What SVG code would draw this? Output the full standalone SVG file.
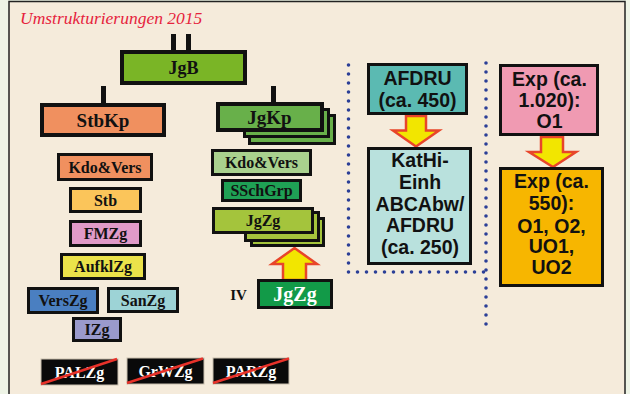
<svg xmlns="http://www.w3.org/2000/svg" width="630" height="394" viewBox="0 0 630 394">
<defs>
<style>
.bx{stroke:#111;stroke-width:3}
.bk{stroke:#111;stroke-width:4}
.ts{font-family:"Liberation Serif","Times New Roman",serif;font-weight:bold;font-size:16px;fill:#111;text-anchor:middle}
.tl{font-family:"Liberation Serif","Times New Roman",serif;font-weight:bold;font-size:19px;fill:#111;text-anchor:middle}
.tw{font-family:"Liberation Serif","Times New Roman",serif;font-weight:bold;font-size:16px;fill:#fff;text-anchor:middle}
.ta{font-family:"Liberation Sans",Arial,sans-serif;font-weight:bold;font-size:19.5px;fill:#111;text-anchor:middle}
.blk{fill:#0a0a0a;stroke:#c9bfae;stroke-width:1}
.cross{stroke:#e8322a;stroke-width:2.5}
.arr{fill:#f2e600;stroke:#e8452a;stroke-width:2.5;stroke-linejoin:miter}
.dot{fill:none;stroke:#2b3f97;stroke-width:3.6;stroke-linecap:round;stroke-dasharray:0 9}
.ln{stroke:#111;stroke-width:5}
</style>
</defs>
<rect x="0" y="0" width="630" height="394" fill="#eef4e6"/>
<rect x="9" y="1.5" width="616" height="400" fill="#f5ebdb" stroke="#222" stroke-width="1.5"/>
<text x="20" y="24" font-family="Liberation Serif,'Times New Roman',serif" font-style="italic" font-size="17.5" fill="#e6233d">Umstrukturierungen 2015</text>

<g id="connectors">
<line class="ln" x1="173.5" y1="34" x2="173.5" y2="50"/>
<line class="ln" x1="188.5" y1="34" x2="188.5" y2="50"/>
<line class="ln" x1="103.5" y1="86" x2="103.5" y2="103"/>
<line class="ln" x1="273.5" y1="86" x2="273.5" y2="102"/>
<polygon class="arr" points="294.5,248 317,264 306,264 306,280 283,280 283,264 272,264"/>
<polygon class="arr" points="406,116 426,116 426,130.5 439,130.5 416,146.5 393,130.5 406,130.5"/>
<polygon class="arr" points="541,137 563,137 563,152 576,152 553,167 529,152 541,152"/>
<path class="dot" d="M348.5 65 V272 H486"/>
<path class="dot" d="M486 63 V327"/>
</g>

<g id="JgB">
<rect class="bk" x="122" y="52" width="123" height="31" fill="#7ab526"/>
<text class="tl" x="183.5" y="73.5" style="font-size:18px">JgB</text>
</g>
<g id="StbKp">
<rect class="bk" x="42" y="105" width="122" height="30" fill="#f0905f"/>
<text class="tl" x="103" y="126.5">StbKp</text>
</g>
<g id="JgKp">
<rect class="bx" x="249.5" y="115.5" width="85" height="28" fill="#68b04a"/>
<rect class="bx" x="244.5" y="109.5" width="84" height="27" fill="#68b04a"/>
<rect class="bk" x="218" y="104" width="104" height="26" fill="#68b04a"/>
<text class="tl" x="269.5" y="123.5">JgKp</text>
</g>

<g id="Kdo-Vers-L">
<rect class="bx" x="58.5" y="154.5" width="93" height="25" fill="#f0905f"/>
<text class="ts" x="105" y="172.5">Kdo&amp;Vers</text>
</g>
<g id="Stb">
<rect class="bx" x="70.5" y="188.5" width="70" height="23" fill="#fbc55a"/>
<text class="ts" x="105.5" y="205.5">Stb</text>
</g>
<g id="FMZg">
<rect class="bx" x="70.5" y="221.5" width="70" height="24" fill="#e09ac8"/>
<text class="ts" x="105.5" y="239">FMZg</text>
</g>
<g id="AufklZg">
<rect class="bx" x="61.5" y="254.5" width="83" height="24" fill="#ebe24a"/>
<text class="ts" x="103" y="272">AufklZg</text>
</g>
<g id="VersZg">
<rect class="bx" x="28.5" y="288.5" width="69" height="24" fill="#4a7fc1"/>
<text class="ts" x="63" y="306">VersZg</text>
</g>
<g id="SanZg">
<rect class="bx" x="108.5" y="288.5" width="69" height="23" fill="#9dd3d6"/>
<text class="ts" x="143" y="305.5">SanZg</text>
</g>
<g id="IZg">
<rect class="bx" x="73.5" y="318.5" width="47" height="22" fill="#9a9acc"/>
<text class="ts" x="97" y="335">IZg</text>
</g>

<g id="PALZg">
<rect class="blk" x="41" y="359" width="77" height="26"/>
<text class="tw" x="79.5" y="377.5">PALZg</text>
<line class="cross" x1="41" y1="384" x2="117" y2="359"/>
</g>
<g id="GrWZg">
<rect class="blk" x="127" y="358" width="77" height="26"/>
<text class="tw" x="165.5" y="376.5">GrWZg</text>
<line class="cross" x1="127" y1="383" x2="203" y2="358.5"/>
</g>
<g id="PARZg">
<rect class="blk" x="213" y="358" width="76" height="26"/>
<text class="tw" x="251" y="376.5">PARZg</text>
<line class="cross" x1="213" y1="383" x2="289" y2="358.5"/>
</g>

<g id="Kdo-Vers-M">
<rect class="bx" x="212.5" y="150.5" width="98" height="24" fill="#a9d18e"/>
<text class="ts" x="261.5" y="168">Kdo&amp;Vers</text>
</g>
<g id="SSchGrp">
<rect class="bx" x="222.5" y="180.5" width="78" height="20" fill="#1fa055"/>
<text class="ts" x="261.5" y="196">SSchGrp</text>
</g>
<g id="JgZg-stack">
<rect class="bx" x="251.5" y="218.5" width="72" height="27" fill="#a4c43c"/>
<rect class="bx" x="245.5" y="212.5" width="73" height="28" fill="#a4c43c"/>
<rect class="bx" x="213.5" y="208.5" width="99" height="24" fill="#a4c43c"/>
<text class="ts" x="263" y="226">JgZg</text>
</g>
<g id="JgZg-IV">
<text class="ts" x="238.5" y="300" style="font-size:15px">IV</text>
<rect class="bx" x="258.5" y="280.5" width="73" height="27" fill="#129a48"/>
<text class="tw" x="295" y="301" style="font-size:20px">JgZg</text>
</g>

<g id="AFDRU">
<rect class="bx" x="368.5" y="64.5" width="98" height="49" fill="#5bbab2"/>
<text class="ta" x="417.5" y="85">AFDRU</text>
<text class="ta" x="417.5" y="107">(ca. 450)</text>
</g>
<g id="KatHi">
<rect class="bx" x="368.5" y="148.5" width="102" height="115" fill="#b9e1dd"/>
<text class="ta" x="420" y="167">KatHi-</text>
<text class="ta" x="420" y="189">Einh</text>
<text class="ta" x="420" y="211">ABCAbw/</text>
<text class="ta" x="420" y="232">AFDRU</text>
<text class="ta" x="420" y="254">(ca. 250)</text>
</g>
<g id="Exp1">
<rect class="bx" x="500.5" y="65.5" width="97" height="69" fill="#f09ab2"/>
<text class="ta" x="549.5" y="86">Exp (ca.</text>
<text class="ta" x="549.5" y="107">1.020):</text>
<text class="ta" x="549.5" y="128">O1</text>
</g>
<g id="Exp2">
<rect class="bx" x="500.5" y="168.5" width="102" height="117" fill="#f7b600"/>
<text class="ta" x="551.5" y="188">Exp (ca.</text>
<text class="ta" x="551.5" y="210">550):</text>
<text class="ta" x="551.5" y="233">O1, O2,</text>
<text class="ta" x="551.5" y="253">UO1,</text>
<text class="ta" x="551.5" y="274">UO2</text>
</g>
</svg>
